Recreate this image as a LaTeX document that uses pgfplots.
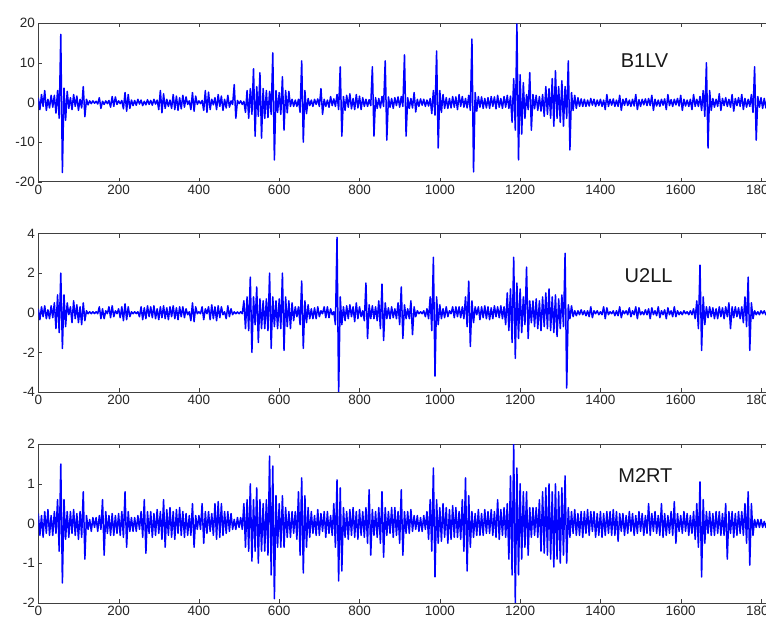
\documentclass[border=0pt]{standalone}
\usepackage{pgfplots}
\pgfplotsset{compat=1.18}
\usepackage{fontspec}
\setmainfont{Liberation Sans}
\definecolor{sig}{RGB}{0,0,255}
\pgfplotsset{
  emg/.style={
    scale only axis, width=742.8pt, height=158.5pt,
    xmin=0, xmax=1850,
    xtick={0,200,...,1800},
    tick align=inside, major tick length=4pt,
    axis line style={black!75}, tick style={black!75},
    tick label style={font=\fontsize{13.5}{14}\selectfont, text=black!85},
    /pgf/number format/assume math mode=true,
    /pgf/number format/1000 sep={},
    clip=true,
  },
  sigline/.style={sig, line width=1.5pt, line join=round, no markers},
}
\begin{document}
\begin{tikzpicture}[x=1pt,y=1pt]
% ---------------- B1LV ----------------
\begin{axis}[emg, at={(38.3pt,440.3pt)}, anchor=south west,
  ymin=-20, ymax=20, ytick={-20,-10,0,10,20}]
\addplot[sigline] table[header=false, x expr=\coordindex*4, y index=0, row sep=\\] {
1.2\\ -1.8\\ 2.0\\ -1.0\\ 3.0\\ -2.0\\ 0.8\\ -1.4\\ 1.8\\ -1.2\\
1.8\\ -2.7\\ 3.0\\ -4.0\\ 17.2\\ -17.7\\ 3.6\\ -4.5\\ 2.8\\ -1.5\\
1.2\\ -1.8\\ 2.0\\ -1.0\\ 1.6\\ -2.0\\ 0.8\\ -1.4\\ 4.0\\ -3.6\\
0.8\\ -0.6\\ 0.4\\ -0.3\\ 0.4\\ -0.2\\ 0.3\\ -0.4\\ 1.2\\ -1.5\\
0.3\\ -0.5\\ 0.4\\ -0.3\\ 0.5\\ -1.2\\ 1.5\\ -1.0\\ 1.4\\ -0.5\\
0.4\\ -0.3\\ 0.5\\ -1.6\\ 2.5\\ -2.2\\ 2.0\\ -1.5\\ 0.6\\ -0.8\\
0.5\\ -0.7\\ 0.8\\ -0.4\\ 0.6\\ -0.8\\ 0.3\\ -0.6\\ 0.7\\ -0.5\\
0.5\\ -0.7\\ 0.8\\ -0.4\\ 0.6\\ -1.8\\ 3.0\\ -2.6\\ 2.2\\ -1.5\\
0.8\\ -1.0\\ 0.6\\ -1.5\\ 2.0\\ -1.8\\ 1.6\\ -2.0\\ 1.2\\ -1.6\\
1.8\\ -1.2\\ 1.4\\ -0.5\\ 0.4\\ -1.8\\ 2.5\\ -2.2\\ 1.6\\ -0.5\\
0.4\\ -0.3\\ 0.5\\ -2.0\\ 3.0\\ -2.5\\ 2.6\\ -1.8\\ 0.8\\ -0.6\\
1.2\\ -1.8\\ 2.0\\ -1.0\\ 1.6\\ -2.0\\ 0.8\\ -1.4\\ 1.8\\ -1.2\\
0.4\\ -0.5\\ 4.5\\ -4.0\\ 0.5\\ -0.3\\ 0.4\\ -0.5\\ 0.3\\ -2.5\\
3.0\\ -4.0\\ 3.5\\ -3.0\\ 8.5\\ -8.5\\ 4.0\\ -3.5\\ 7.5\\ -9.0\\
3.5\\ -4.0\\ 3.0\\ -3.8\\ 2.8\\ -3.0\\ 12.5\\ -14.5\\ 3.0\\ -2.5\\
2.5\\ -3.0\\ 6.5\\ -7.0\\ 3.0\\ -2.6\\ 2.8\\ -1.0\\ 0.8\\ -1.0\\
0.6\\ -1.0\\ 0.8\\ -2.5\\ 10.5\\ -10.0\\ 3.0\\ -2.8\\ 1.0\\ -0.8\\
0.6\\ -1.0\\ 0.8\\ -0.5\\ 0.9\\ -1.0\\ 3.5\\ -3.0\\ 0.8\\ -1.0\\
0.6\\ -1.2\\ 1.5\\ -0.8\\ 0.9\\ -1.0\\ 2.0\\ -1.8\\ 9.0\\ -8.5\\
1.5\\ -2.0\\ 1.8\\ -1.2\\ 2.2\\ -1.6\\ 1.0\\ -1.8\\ 2.0\\ -1.4\\
1.6\\ -1.8\\ 1.2\\ -1.0\\ 0.8\\ -1.0\\ 0.7\\ -0.8\\ 9.0\\ -8.5\\
1.2\\ -1.5\\ 1.0\\ -1.4\\ 1.5\\ -1.0\\ 10.5\\ -9.5\\ 1.4\\ -1.2\\
1.0\\ -1.5\\ 1.2\\ -0.8\\ 1.4\\ -1.2\\ 1.5\\ -1.0\\ 12.0\\ -8.5\\
1.2\\ -1.5\\ 1.0\\ -1.4\\ 2.5\\ -2.4\\ 0.8\\ -1.0\\ 0.9\\ -0.7\\
0.8\\ -1.0\\ 0.6\\ -0.9\\ 1.0\\ -2.8\\ 3.0\\ -3.2\\ 13.0\\ -11.5\\
3.0\\ -2.5\\ 2.0\\ -1.5\\ 1.2\\ -1.5\\ 1.0\\ -1.4\\ 1.5\\ -1.2\\
1.4\\ -1.8\\ 2.0\\ -1.0\\ 1.5\\ -1.2\\ 1.0\\ -1.4\\ 1.8\\ -2.0\\
16.0\\ -17.5\\ 2.5\\ -2.2\\ 1.5\\ -1.2\\ 1.4\\ -1.5\\ 1.0\\ -1.4\\
1.2\\ -1.5\\ 1.5\\ -1.0\\ 1.4\\ -1.6\\ 1.8\\ -1.2\\ 1.0\\ -1.5\\
1.5\\ -1.2\\ 1.8\\ -1.5\\ 1.6\\ -5.0\\ 6.0\\ -7.0\\ 19.8\\ -14.5\\
7.0\\ -8.0\\ 5.0\\ -4.0\\ 2.0\\ -1.8\\ 7.5\\ -7.0\\ 2.0\\ -1.6\\
1.8\\ -2.0\\ 1.5\\ -2.2\\ 2.0\\ -3.5\\ 4.0\\ -3.0\\ 3.5\\ -4.0\\
6.0\\ -6.0\\ 8.0\\ -4.0\\ 4.0\\ -5.0\\ 5.5\\ -6.0\\ 4.0\\ -4.0\\
10.5\\ -12.0\\ 2.5\\ -2.0\\ 1.8\\ -1.5\\ 1.2\\ -1.0\\ 0.9\\ -1.0\\
0.8\\ -1.0\\ 0.6\\ -0.9\\ 1.0\\ -0.7\\ 0.8\\ -1.0\\ 0.6\\ -0.8\\
0.8\\ -1.0\\ 0.6\\ -1.8\\ 2.0\\ -1.0\\ 0.8\\ -0.7\\ 0.9\\ -1.0\\
0.6\\ -1.0\\ 1.8\\ -2.0\\ 0.8\\ -0.7\\ 1.0\\ -0.8\\ 0.6\\ -1.0\\
0.8\\ -0.9\\ 2.0\\ -1.8\\ 0.7\\ -1.0\\ 0.8\\ -0.6\\ 0.9\\ -0.8\\
1.0\\ -0.8\\ 1.8\\ -2.0\\ 0.8\\ -0.9\\ 0.6\\ -1.0\\ 0.8\\ -0.7\\
0.9\\ -1.8\\ 2.0\\ -0.8\\ 0.7\\ -1.0\\ 0.8\\ -0.6\\ 1.0\\ -0.9\\
1.8\\ -2.0\\ 0.8\\ -0.9\\ 0.6\\ -1.0\\ 0.8\\ -1.8\\ 2.0\\ -1.0\\
0.8\\ -1.0\\ 1.5\\ -2.0\\ 3.0\\ -3.5\\ 10.0\\ -11.5\\ 3.0\\ -2.0\\
1.0\\ -1.2\\ 0.8\\ -1.0\\ 2.2\\ -2.0\\ 1.0\\ -0.8\\ 1.2\\ -1.0\\
0.8\\ -1.2\\ 2.0\\ -2.2\\ 1.0\\ -0.8\\ 1.2\\ -1.0\\ 2.0\\ -1.8\\
1.0\\ -1.2\\ 0.8\\ -1.0\\ 2.0\\ -2.5\\ 9.0\\ -9.5\\ 1.5\\ -1.2\\
1.2\\ -1.5\\ 1.0\\ -1.4\\ 1.5\\ -1.2\\ 1.0\\ -1.3\\ 1.2\\ -1.0\\
};
\node[font=\fontsize{20}{20}\selectfont, text=black!90] at (axis cs:1510,10.5) {B1LV};
\end{axis}
% ---------------- U2LL ----------------
\begin{axis}[emg, at={(38.3pt,230pt)}, anchor=south west,
  ymin=-4, ymax=4, ytick={-4,-2,0,2,4}]
\addplot[sigline] table[header=false, x expr=\coordindex*4, y index=0, row sep=\\] {
0.2\\ -0.35\\ 0.3\\ -0.2\\ 0.35\\ -0.3\\ 0.15\\ -0.3\\ 0.35\\ -0.25\\
0.5\\ -0.8\\ 0.9\\ -1.0\\ 2.0\\ -1.8\\ 0.9\\ -0.7\\ 0.5\\ -0.1\\
0.3\\ -0.5\\ 0.6\\ -0.3\\ 0.4\\ -0.5\\ 0.3\\ -0.6\\ 0.5\\ -0.4\\
0.1\\ -0.05\\ 0.05\\ -0.05\\ 0.05\\ -0.04\\ 0.05\\ -0.05\\ 0.3\\ -0.3\\
0.2\\ -0.3\\ 0.1\\ -0.05\\ 0.3\\ -0.25\\ 0.35\\ -0.2\\ 0.1\\ -0.05\\
0.2\\ -0.25\\ 0.3\\ -0.4\\ 0.45\\ -0.35\\ 0.3\\ -0.2\\ 0.05\\ -0.05\\
0.05\\ -0.04\\ 0.05\\ -0.2\\ 0.3\\ -0.35\\ 0.25\\ -0.3\\ 0.35\\ -0.2\\
0.3\\ -0.25\\ 0.35\\ -0.3\\ 0.2\\ -0.35\\ 0.3\\ -0.25\\ 0.35\\ -0.3\\
0.25\\ -0.35\\ 0.3\\ -0.2\\ 0.35\\ -0.3\\ 0.25\\ -0.35\\ 0.3\\ -0.2\\
0.3\\ -0.25\\ 0.2\\ -0.1\\ 0.05\\ -0.4\\ 0.5\\ -0.45\\ 0.3\\ -0.05\\
0.05\\ -0.05\\ 0.3\\ -0.35\\ 0.2\\ -0.05\\ 0.3\\ -0.35\\ 0.4\\ -0.3\\
0.3\\ -0.4\\ 0.35\\ -0.25\\ 0.3\\ -0.1\\ 0.05\\ -0.3\\ 0.35\\ -0.2\\
0.2\\ -0.1\\ 0.05\\ -0.05\\ 0.04\\ -0.05\\ 0.05\\ -0.05\\ 0.6\\ -0.8\\
0.8\\ -0.9\\ 1.8\\ -2.0\\ 0.8\\ -0.6\\ 1.3\\ -1.5\\ 0.7\\ -0.8\\
0.6\\ -0.8\\ 0.7\\ -0.9\\ 2.0\\ -1.8\\ 0.8\\ -0.7\\ 0.6\\ -0.8\\
0.7\\ -0.8\\ 2.0\\ -1.9\\ 0.8\\ -0.7\\ 0.6\\ -0.8\\ 0.5\\ -0.4\\
0.3\\ -0.2\\ 0.3\\ -0.6\\ 1.6\\ -1.8\\ 0.6\\ -0.5\\ 0.4\\ -0.3\\
0.2\\ -0.3\\ 0.25\\ -0.3\\ 0.3\\ -0.2\\ 0.1\\ -0.05\\ 0.3\\ -0.25\\
0.3\\ -0.25\\ 0.2\\ -0.1\\ 0.05\\ -0.6\\ 3.8\\ -4.1\\ 0.8\\ -0.6\\
0.3\\ -0.4\\ 0.35\\ -0.3\\ 0.4\\ -0.2\\ 0.3\\ -0.45\\ 0.5\\ -0.3\\
0.3\\ -0.2\\ 0.1\\ -0.4\\ 1.5\\ -1.3\\ 0.4\\ -0.3\\ 0.35\\ -0.3\\
0.3\\ -0.4\\ 0.6\\ -0.8\\ 1.45\\ -1.4\\ 0.5\\ -0.3\\ 0.25\\ -0.3\\
0.3\\ -0.25\\ 0.2\\ -0.3\\ 0.5\\ -0.6\\ 1.3\\ -1.3\\ 0.4\\ -0.3\\
0.2\\ -0.3\\ 0.6\\ -1.1\\ 0.3\\ -0.2\\ 0.1\\ -0.05\\ 0.05\\ -0.05\\
0.1\\ -0.2\\ 0.2\\ -0.3\\ 0.8\\ -0.9\\ 2.8\\ -3.2\\ 0.8\\ -0.6\\
0.4\\ -0.3\\ 0.2\\ -0.25\\ 0.3\\ -0.2\\ 0.1\\ -0.05\\ 0.3\\ -0.25\\
0.3\\ -0.2\\ 0.3\\ -0.25\\ 0.3\\ -0.3\\ 0.8\\ -0.7\\ 1.6\\ -1.7\\
0.6\\ -0.5\\ 0.3\\ -0.1\\ 0.3\\ -0.35\\ 0.3\\ -0.25\\ 0.35\\ -0.3\\
0.3\\ -0.35\\ 0.25\\ -0.3\\ 0.35\\ -0.2\\ 0.3\\ -0.25\\ 0.35\\ -0.3\\
0.3\\ -0.6\\ 1.0\\ -0.9\\ 1.2\\ -1.5\\ 2.8\\ -2.3\\ 1.5\\ -1.3\\
1.2\\ -1.0\\ 0.8\\ -0.6\\ 2.3\\ -1.3\\ 0.6\\ -0.5\\ 0.6\\ -0.7\\
0.7\\ -0.8\\ 0.6\\ -0.9\\ 0.8\\ -0.7\\ 1.0\\ -0.8\\ 1.2\\ -0.9\\
0.8\\ -1.0\\ 0.9\\ -1.2\\ 0.7\\ -0.8\\ 0.9\\ -0.7\\ 3.0\\ -3.8\\
0.4\\ -0.3\\ 0.35\\ -0.2\\ 0.1\\ -0.15\\ 0.1\\ -0.1\\ 0.15\\ -0.1\\
0.1\\ -0.15\\ 0.1\\ -0.2\\ 0.3\\ -0.25\\ 0.1\\ -0.05\\ 0.1\\ -0.1\\
0.05\\ -0.1\\ 0.3\\ -0.3\\ 0.25\\ -0.1\\ 0.05\\ -0.05\\ 0.1\\ -0.15\\
0.1\\ -0.15\\ 0.3\\ -0.25\\ 0.1\\ -0.05\\ 0.1\\ -0.1\\ 0.25\\ -0.2\\
0.1\\ -0.1\\ 0.3\\ -0.3\\ 0.25\\ -0.1\\ 0.05\\ -0.1\\ 0.15\\ -0.1\\
0.2\\ -0.3\\ 0.25\\ -0.1\\ 0.1\\ -0.15\\ 0.3\\ -0.25\\ 0.1\\ -0.1\\
0.15\\ -0.3\\ 0.25\\ -0.1\\ 0.1\\ -0.2\\ 0.3\\ -0.2\\ 0.1\\ -0.1\\
0.05\\ -0.1\\ 0.1\\ -0.05\\ 0.05\\ -0.1\\ 0.1\\ -0.1\\ 0.2\\ -0.3\\
0.6\\ -0.8\\ 2.4\\ -1.9\\ 0.8\\ -0.6\\ 0.3\\ -0.25\\ 0.3\\ -0.2\\
0.25\\ -0.3\\ 0.2\\ -0.3\\ 0.3\\ -0.2\\ 0.25\\ -0.3\\ 0.3\\ -0.2\\
0.5\\ -0.8\\ 0.3\\ -0.25\\ 0.3\\ -0.2\\ 0.25\\ -0.3\\ 0.3\\ -0.5\\
0.8\\ -0.7\\ 1.8\\ -1.9\\ 0.5\\ -0.3\\ 0.1\\ -0.1\\ 0.05\\ -0.1\\
0.1\\ -0.05\\ 0.1\\ -0.1\\ 0.05\\ -0.1\\ 0.1\\ -0.05\\ 0.1\\ -0.1\\
};
\node[font=\fontsize{20}{20}\selectfont, text=black!90] at (axis cs:1520,1.85) {U2LL};
\end{axis}
% ---------------- M2RT ----------------
\begin{axis}[emg, at={(38.3pt,19.3pt)}, anchor=south west,
  ymin=-2, ymax=2, ytick={-2,-1,0,1,2}]
\addplot[sigline] table[header=false, x expr=\coordindex*4, y index=0, row sep=\\] {
0.25\\ -0.3\\ 0.2\\ -0.35\\ 0.3\\ -0.25\\ 0.35\\ -0.3\\ 0.2\\ -0.3\\
0.3\\ -0.25\\ 0.6\\ -0.7\\ 1.5\\ -1.5\\ 0.6\\ -0.4\\ 0.3\\ -0.35\\
0.3\\ -0.25\\ 0.35\\ -0.3\\ 0.25\\ -0.4\\ 0.3\\ -0.35\\ 0.8\\ -0.9\\
0.2\\ -0.15\\ 0.1\\ -0.2\\ 0.15\\ -0.1\\ 0.15\\ -0.2\\ 0.2\\ -0.15\\
0.6\\ -0.8\\ 0.3\\ -0.25\\ 0.2\\ -0.3\\ 0.25\\ -0.3\\ 0.2\\ -0.25\\
0.25\\ -0.3\\ 0.3\\ -0.35\\ 0.8\\ -0.6\\ 0.3\\ -0.2\\ 0.15\\ -0.2\\
0.15\\ -0.2\\ 0.2\\ -0.15\\ 0.3\\ -0.35\\ 0.6\\ -0.75\\ 0.3\\ -0.25\\
0.3\\ -0.35\\ 0.25\\ -0.3\\ 0.35\\ -0.25\\ 0.3\\ -0.4\\ 0.6\\ -0.6\\
0.35\\ -0.3\\ 0.4\\ -0.35\\ 0.3\\ -0.4\\ 0.35\\ -0.25\\ 0.4\\ -0.3\\
0.3\\ -0.35\\ 0.25\\ -0.3\\ 0.2\\ -0.3\\ 0.5\\ -0.6\\ 0.2\\ -0.15\\
0.2\\ -0.15\\ 0.5\\ -0.5\\ 0.3\\ -0.25\\ 0.3\\ -0.2\\ 0.25\\ -0.3\\
0.5\\ -0.4\\ 0.55\\ -0.35\\ 0.5\\ -0.3\\ 0.3\\ -0.25\\ 0.3\\ -0.2\\
0.25\\ -0.15\\ 0.1\\ -0.15\\ 0.15\\ -0.1\\ 0.15\\ -0.15\\ 0.5\\ -0.6\\
0.6\\ -0.7\\ 1.0\\ -0.95\\ 0.6\\ -0.7\\ 0.9\\ -1.0\\ 0.6\\ -0.7\\
0.5\\ -0.7\\ 0.6\\ -0.8\\ 1.7\\ -1.3\\ 1.45\\ -1.9\\ 0.7\\ -0.6\\
0.5\\ -0.6\\ 0.7\\ -0.6\\ 0.4\\ -0.35\\ 0.3\\ -0.35\\ 0.3\\ -0.25\\
0.3\\ -0.4\\ 0.8\\ -0.8\\ 1.15\\ -1.25\\ 0.7\\ -0.6\\ 0.4\\ -0.35\\
0.3\\ -0.25\\ 0.2\\ -0.3\\ 0.35\\ -0.3\\ 0.25\\ -0.2\\ 0.3\\ -0.35\\
0.3\\ -0.25\\ 0.2\\ -0.3\\ 0.5\\ -0.6\\ 1.1\\ -1.45\\ 0.9\\ -1.2\\
0.4\\ -0.35\\ 0.3\\ -0.4\\ 0.35\\ -0.3\\ 0.4\\ -0.35\\ 0.3\\ -0.4\\
0.35\\ -0.3\\ 0.3\\ -0.35\\ 0.4\\ -0.5\\ 0.85\\ -0.8\\ 0.35\\ -0.3\\
0.3\\ -0.35\\ 0.4\\ -0.5\\ 0.8\\ -0.85\\ 0.4\\ -0.3\\ 0.3\\ -0.25\\
0.4\\ -0.35\\ 0.4\\ -0.3\\ 0.3\\ -0.5\\ 0.85\\ -0.8\\ 0.3\\ -0.25\\
0.3\\ -0.25\\ 0.35\\ -0.2\\ 0.2\\ -0.15\\ 0.2\\ -0.2\\ 0.15\\ -0.2\\
0.2\\ -0.15\\ 0.3\\ -0.4\\ 0.6\\ -0.7\\ 1.4\\ -1.35\\ 0.6\\ -0.5\\
0.4\\ -0.45\\ 0.5\\ -0.35\\ 0.4\\ -0.5\\ 0.35\\ -0.4\\ 0.45\\ -0.35\\
0.4\\ -0.35\\ 0.3\\ -0.4\\ 0.6\\ -0.7\\ 1.15\\ -1.2\\ 0.7\\ -0.6\\
0.3\\ -0.35\\ 0.25\\ -0.3\\ 0.35\\ -0.3\\ 0.25\\ -0.3\\ 0.35\\ -0.25\\
0.3\\ -0.25\\ 0.35\\ -0.3\\ 0.3\\ -0.35\\ 0.6\\ -0.4\\ 0.35\\ -0.3\\
0.4\\ -0.35\\ 0.5\\ -0.9\\ 1.2\\ -1.3\\ 2.0\\ -2.0\\ 1.4\\ -1.3\\
1.0\\ -0.9\\ 0.8\\ -0.6\\ 0.8\\ -0.8\\ 0.4\\ -0.35\\ 0.4\\ -0.3\\
0.4\\ -0.35\\ 0.6\\ -0.7\\ 0.8\\ -0.75\\ 0.9\\ -0.8\\ 1.0\\ -0.9\\
0.8\\ -1.1\\ 1.0\\ -0.9\\ 0.8\\ -1.0\\ 0.9\\ -0.8\\ 1.2\\ -1.0\\
0.4\\ -0.35\\ 0.3\\ -0.25\\ 0.35\\ -0.3\\ 0.25\\ -0.3\\ 0.3\\ -0.35\\
0.3\\ -0.25\\ 0.35\\ -0.3\\ 0.3\\ -0.2\\ 0.3\\ -0.35\\ 0.25\\ -0.3\\
0.3\\ -0.35\\ 0.25\\ -0.3\\ 0.3\\ -0.25\\ 0.3\\ -0.3\\ 0.35\\ -0.3\\
0.3\\ -0.45\\ 0.25\\ -0.2\\ 0.25\\ -0.3\\ 0.2\\ -0.25\\ 0.3\\ -0.2\\
0.25\\ -0.3\\ 0.2\\ -0.25\\ 0.3\\ -0.2\\ 0.25\\ -0.3\\ 0.2\\ -0.25\\
0.5\\ -0.3\\ 0.25\\ -0.2\\ 0.3\\ -0.25\\ 0.2\\ -0.3\\ 0.5\\ -0.35\\
0.25\\ -0.3\\ 0.2\\ -0.25\\ 0.3\\ -0.3\\ 0.55\\ -0.5\\ 0.25\\ -0.2\\
0.2\\ -0.25\\ 0.3\\ -0.2\\ 0.25\\ -0.3\\ 0.2\\ -0.25\\ 0.3\\ -0.4\\
0.5\\ -0.6\\ 1.05\\ -1.35\\ 0.6\\ -0.5\\ 0.3\\ -0.25\\ 0.3\\ -0.3\\
0.25\\ -0.3\\ 0.3\\ -0.25\\ 0.3\\ -0.3\\ 0.25\\ -0.3\\ 0.5\\ -0.9\\
0.3\\ -0.25\\ 0.3\\ -0.35\\ 0.25\\ -0.3\\ 0.3\\ -0.25\\ 0.3\\ -0.3\\
0.5\\ -0.5\\ 0.8\\ -1.05\\ 0.5\\ -0.3\\ 0.1\\ -0.1\\ 0.1\\ -0.1\\
0.1\\ -0.1\\ 0.05\\ -0.1\\ 0.1\\ -0.05\\ 0.1\\ -0.1\\ 0.05\\ -0.1\\
};
\node[font=\fontsize{20}{20}\selectfont, text=black!90] at (axis cs:1512,1.2) {M2RT};
\end{axis}
\pgfresetboundingbox
\useasboundingbox (0,0) rectangle (766,622);
\end{tikzpicture}
\end{document}
